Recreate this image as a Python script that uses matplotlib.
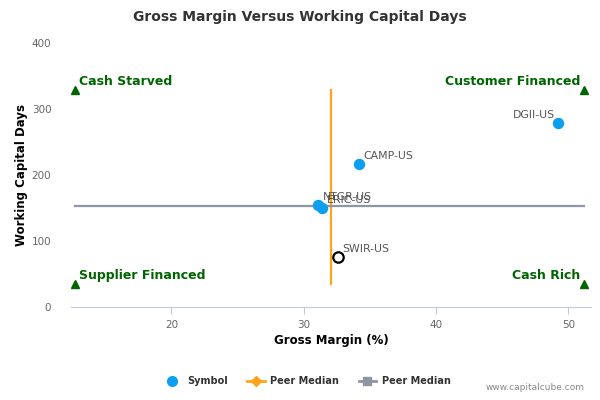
import matplotlib
matplotlib.use("Agg")
import matplotlib.pyplot as plt
from matplotlib.lines import Line2D

# data
symbols = ["DGII-US", "CAMP-US", "NTGR-US", "ERIC-US", "SWIR-US"]
gross_margin = [49.2, 34.2, 31.1, 31.4, 32.6]
wc_days = [279, 217, 155, 150, 76]
highlight = "SWIR-US"

peer_median_gm = 32.05
peer_median_wcd = 153
quad_x = [12.7, 51.2]
quad_y = [35, 329]
quad_labels = ["Cash Starved", "Customer Financed", "Supplier Financed", "Cash Rich"]

x_ticks = [20, 30, 40, 50]
y_ticks = [0, 100, 200, 300, 400]

BLUE = "#0c9ff0"
ORANGE = "#ffa31a"
GREY = "#8f96a3"
GREEN = "#006400"
AXIS = "#c0cad8"
TXT = "#666666"

plt.rcParams["font.family"] = ["DejaVu Sans"]

fig = plt.figure(figsize=(6, 4), dpi=100)
ax = fig.add_axes([0.118, 0.2325, 0.867, 0.66])

# peer medians
ax.plot([peer_median_gm, peer_median_gm], quad_y, color=ORANGE, lw=1.6, zorder=2)
ax.plot(quad_x, [peer_median_wcd, peer_median_wcd], color=GREY, lw=1.6, zorder=2)

# quadrant markers
for qx in quad_x:
    for qy in quad_y:
        ax.plot(qx, qy, marker="^", color=GREEN, ms=6, ls="none", zorder=3)

lab_kw = dict(color=GREEN, fontsize=9, fontweight="bold", va="bottom")
ax.text(quad_x[0] + 0.3, quad_y[1] + 3, quad_labels[0], ha="left", **lab_kw)
ax.text(quad_x[1] - 0.3, quad_y[1] + 3, quad_labels[1], ha="right", **lab_kw)
ax.text(quad_x[0] + 0.3, quad_y[0] + 3, quad_labels[2], ha="left", **lab_kw)
ax.text(quad_x[1] - 0.3, quad_y[0] + 3, quad_labels[3], ha="right", **lab_kw)

# company points
for name, gx, wy in zip(symbols, gross_margin, wc_days):
    if name == highlight:
        ax.plot(gx, wy, marker="o", ms=7.5, mfc="white", mec="black", mew=1.6,
                ls="none", zorder=4)
    else:
        ax.plot(gx, wy, marker="o", ms=7.2, color=BLUE, ls="none", zorder=4)
    if name == "DGII-US":
        ax.annotate(name, (gx, wy), xytext=(-2, 2), textcoords="offset points",
                    ha="right", va="bottom", fontsize=7.8, color="#555555")
    else:
        ax.annotate(name, (gx, wy), xytext=(3, 2), textcoords="offset points",
                    ha="left", va="bottom", fontsize=7.8, color="#555555")

ax.set_xlim(12.4, 51.7)
ax.set_ylim(0, 400)
ax.set_xticks(x_ticks)
ax.set_yticks(y_ticks)

for s in ["top", "right", "left"]:
    ax.spines[s].set_visible(False)
ax.spines["bottom"].set_color(AXIS)
ax.tick_params(axis="x", colors=AXIS, length=5, labelcolor=TXT, labelsize=7.5, pad=4)
ax.tick_params(axis="y", length=0, labelcolor=TXT, labelsize=7.5, pad=14)

ax.set_xlabel("Gross Margin (%)", fontsize=8.5, fontweight="bold", labelpad=3)
ax.set_ylabel("Working Capital Days", fontsize=8.5, fontweight="bold", labelpad=3)

fig.suptitle("Gross Margin Versus Working Capital Days", x=0.5, y=0.975,
             fontsize=10, fontweight="bold", color="#333333")

handles = [
    Line2D([], [], marker="o", ls="none", color=BLUE, ms=7),
    Line2D([], [], marker="D", color=ORANGE, lw=2, ms=5),
    Line2D([], [], marker="s", color=GREY, lw=2, ms=6),
]
fig.legend(handles, ["Symbol", "Peer Median", "Peer Median"], loc="center",
           bbox_to_anchor=(0.512, 0.047), ncol=3, frameon=False,
           prop={"size": 7, "weight": "bold"}, handlelength=1.8,
           columnspacing=2.0, handletextpad=0.6, labelcolor="#333333")

fig.text(0.975, 0.02, "www.capitalcube.com", ha="right", va="bottom",
         fontsize=6.5, color="#888888")

fig.savefig("out.png", dpi=100, facecolor="white")
